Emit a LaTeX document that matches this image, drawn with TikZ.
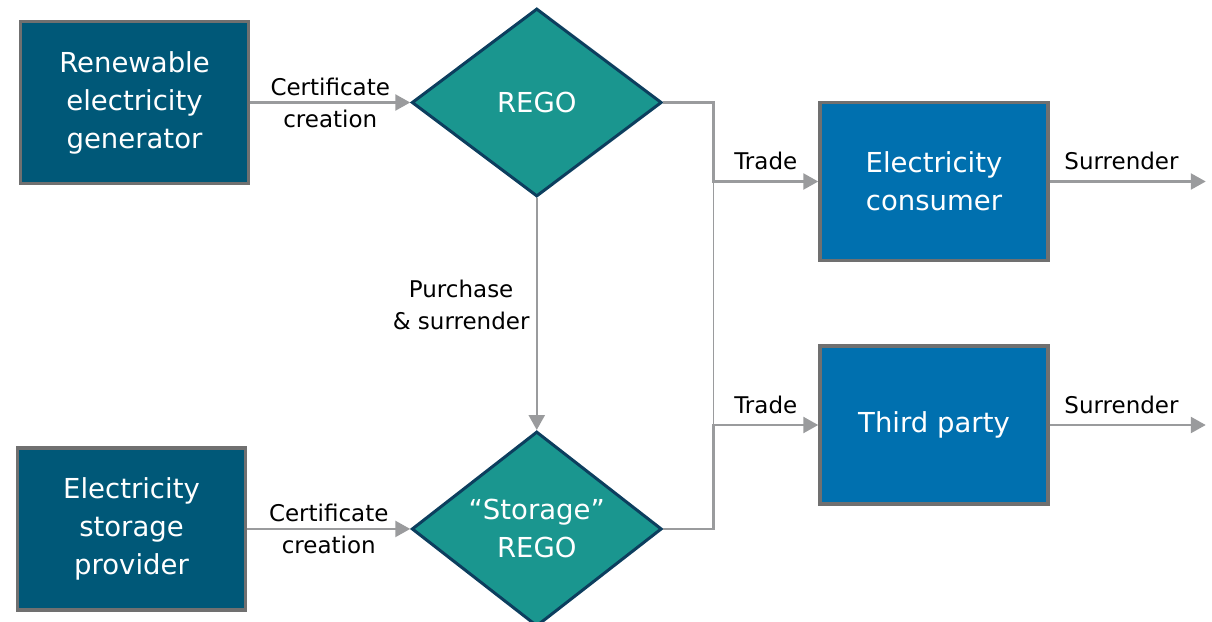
\documentclass[tikz,border=0pt]{standalone}
\usepackage{fontspec}
\setmainfont{DejaVu Sans}
\usetikzlibrary{arrows.meta,positioning,shapes.geometric}

\definecolor{gendark}{HTML}{005878}
\definecolor{regoteal}{HTML}{1A968F}
\definecolor{regoedge}{HTML}{0C3E5E}
\definecolor{userblue}{HTML}{0070AF}
\definecolor{edgegray}{HTML}{707070}
\definecolor{flowgray}{HTML}{9A9B9D}

\newcommand{\partyfont}{\fontsize{27.5}{38}\selectfont}
\newcommand{\flowfont}{\fontsize{23}{32}\selectfont}

\begin{document}
\begin{tikzpicture}[x=1pt, y=-1pt, node distance = 160pt and 160pt,
    party/.style={rectangle,minimum width=228pt,minimum height=162pt,line width=3.5pt,draw=edgegray,text=white,align=center,font=\partyfont},
    cert/.style={diamond,minimum width=250pt,minimum height=188pt,inner sep=0pt,line width=3pt,draw=regoedge,fill=regoteal,text=white,align=center,font=\partyfont},
    flow/.style={line width=2.5pt,draw=flowgray,-{Triangle[length=15pt,width=16pt]}},
    tag/.style={font=\flowfont,align=center,text=black,inner sep=0pt},
   ]

    \useasboundingbox (0,0) rectangle (1212,621);

    \node (renew) [party,fill=gendark] at (134.5,102.5) {Renewable\\electricity\\generator};
    \node (rego) [cert,right=of renew] {REGO};
    \node (store) [cert,below=232pt of rego] {“Storage”\\REGO};
    \node (storage) [party,fill=gendark,left=163pt of store] {Electricity\\storage\\provider};

    \node (consumer) [party,fill=userblue,minimum height=158pt] at (934,181.5) {Electricity\\consumer};
    \node (third) [party,fill=userblue,minimum height=158pt,below=82pt of consumer] {Third party};

    \coordinate [right=50pt of rego.east] (tapa);
    \coordinate [right=50pt of store.east] (tapb);
    \coordinate [right=156pt of consumer.east] (outa);
    \coordinate [right=156pt of third.east] (outb);

    \draw[flow] (renew) -- node[tag] {Certificate\\creation} (rego);
    \draw[flow] (storage) -- node[tag] {Certificate\\creation} (store);
    \draw[flow] (rego) -- node[tag,left=6pt,pos=0.46] {Purchase\\\& surrender} (store);

    \draw[flow] (rego.east) -- (tapa) |- node[tag,above=10pt,pos=0.75] {Trade} (consumer.west);
    \draw[flow] (store.east) -- (tapb) |- node[tag,above=10pt,pos=0.75] {Trade} (third.west);
    \draw[line width=1.5pt,flowgray] (tapa |- consumer.west) -- (tapb |- third.west);

    \draw[flow] (consumer.east) -- node[tag,above=10pt,pos=0.46] {Surrender} (outa);
    \draw[flow] (third.east) -- node[tag,above=10pt,pos=0.46] {Surrender} (outb);
  \end{tikzpicture}
\end{document}
